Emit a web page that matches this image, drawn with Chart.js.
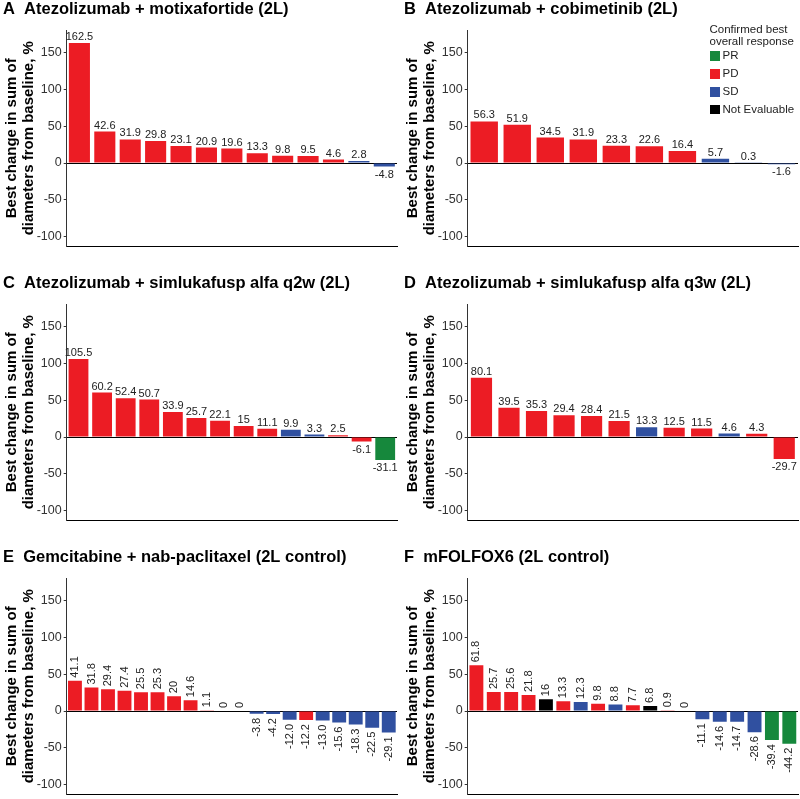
<!DOCTYPE html>
<html><head><meta charset="utf-8">
<script src="https://cdn.jsdelivr.net/npm/chart.js@4.4.1/dist/chart.umd.min.js"></script>
<style>
html,body{margin:0;padding:0;background:#fff;width:800px;height:799px;overflow:hidden;position:relative;font-family:'Liberation Sans',Arial,sans-serif;}
canvas{position:absolute;}
#legend{position:absolute;left:709.5px;top:22.8px;font-size:11.5px;line-height:12.5px;color:#222;white-space:nowrap;}
#legend .item{position:absolute;left:0;height:9.5px;}
#legend .sq{position:absolute;left:0;top:0;width:10px;height:9.5px;}
#legend .lab{position:absolute;left:13px;top:0;line-height:9.5px;}
</style></head><body>
<canvas id="cA" width="400" height="256" style="left:0px;top:0px"></canvas>
<canvas id="cB" width="400" height="256" style="left:401px;top:0px"></canvas>
<canvas id="cC" width="400" height="256" style="left:0px;top:274px"></canvas>
<canvas id="cD" width="400" height="256" style="left:401px;top:274px"></canvas>
<canvas id="cE" width="400" height="256" style="left:0px;top:548px"></canvas>
<canvas id="cF" width="400" height="256" style="left:401px;top:548px"></canvas>
<div id="legend"></div>
<script>
// ---- data ----
const yTicks = [-100, -50, 0, 50, 100, 150];
const responseCodes = ['PR', 'PD', 'SD', 'NE'];
const responseNames = ['PR', 'PD', 'SD', 'Not Evaluable'];
const responseColors = ['#16883C', '#EC1C24', '#3050A0', '#000000'];
const legendTitle = ['Confirmed best', 'overall response'];
const yTitle = ['Best change in sum of', 'diameters from baseline, %'];

const titleA = 'A  Atezolizumab + motixafortide (2L)';
const valuesA = [162.5, 42.6, 31.9, 29.8, 23.1, 20.9, 19.6, 13.3, 9.8, 9.5, 4.6, 2.8, -4.8];
const respA = ['PD','PD','PD','PD','PD','PD','PD','PD','PD','PD','PD','SD','SD'];

const titleB = 'B  Atezolizumab + cobimetinib (2L)';
const valuesB = [56.3, 51.9, 34.5, 31.9, 23.3, 22.6, 16.4, 5.7, 0.3, -1.6];
const respB = ['PD','PD','PD','PD','PD','PD','PD','SD','SD','SD'];

const titleC = 'C  Atezolizumab + simlukafusp alfa q2w (2L)';
const valuesC = [105.5, 60.2, 52.4, 50.7, 33.9, 25.7, 22.1, 15, 11.1, 9.9, 3.3, 2.5, -6.1, -31.1];
const respC = ['PD','PD','PD','PD','PD','PD','PD','PD','PD','SD','SD','PD','PD','PR'];

const titleD = 'D  Atezolizumab + simlukafusp alfa q3w (2L)';
const valuesD = [80.1, 39.5, 35.3, 29.4, 28.4, 21.5, 13.3, 12.5, 11.5, 4.6, 4.3, -29.7];
const respD = ['PD','PD','PD','PD','PD','PD','SD','PD','PD','SD','PD','PD'];

const titleE = 'E  Gemcitabine + nab-paclitaxel (2L control)';
const valuesE = [41.1, 31.8, 29.4, 27.4, 25.5, 25.3, 20, 14.6, 1.1, 0, 0, -3.8, -4.2, -12.0, -12.2, -13.0, -15.6, -18.3, -22.5, -29.1];
const labelsE = ['41.1','31.8','29.4','27.4','25.5','25.3','20','14.6','1.1','0','0','-3.8','-4.2','-12.0','-12.2','-13.0','-15.6','-18.3','-22.5','-29.1'];
const respE = ['PD','PD','PD','PD','PD','PD','PD','PD','PD','PD','PD','SD','SD','SD','PD','SD','SD','SD','SD','SD'];

const titleF = 'F  mFOLFOX6 (2L control)';
const valuesF = [61.8, 25.7, 25.6, 21.8, 16, 13.3, 12.3, 9.8, 8.8, 7.7, 6.8, 0.9, 0, -11.1, -14.6, -14.7, -28.6, -39.4, -44.2];
const respF = ['PD','PD','PD','PD','NE','PD','SD','PD','SD','PD','NE','PD','PD','SD','SD','SD','SD','PR','PR'];

// ---- rendering ----
const FONT = "'Liberation Sans', Arial, sans-serif";
Chart.defaults.font.family = FONT;

const barLabels = {
  id: 'barLabels',
  afterDatasetsDraw(chart, args, opts) {
    const meta = chart.getDatasetMeta(0);
    const data = chart.data.datasets[0].data;
    const ctx = chart.ctx;
    ctx.save();
    ctx.font = '11px ' + FONT;
    ctx.fillStyle = '#222';
    meta.data.forEach((bar, i) => {
      const v = data[i];
      const t = opts.texts[i];
      const p = bar.getProps(['x', 'y', 'base'], true);
      const top = Math.min(p.y, p.base), bottom = Math.max(p.y, p.base);
      if (opts.rotate) {
        ctx.save();
        if (v >= 0) { ctx.translate(p.x, top - 3); ctx.textAlign = 'left'; }
        else { ctx.translate(p.x, bottom + 4); ctx.textAlign = 'right'; }
        ctx.rotate(-Math.PI / 2);
        ctx.textBaseline = 'middle';
        ctx.fillText(t, 0, 0);
        ctx.restore();
      } else {
        ctx.textAlign = 'center';
        ctx.textBaseline = 'alphabetic';
        if (v >= 0) ctx.fillText(t, p.x, top - 3);
        else ctx.fillText(t, p.x, bottom + 11);
      }
    });
    ctx.restore();
  }
};

function colorOf(r) { return responseColors[responseCodes.indexOf(r)]; }

function makeChart(id, title, values, resp, texts, barPct, rotate) {
  new Chart(document.getElementById(id), {
    type: 'bar',
    data: {
      labels: values.map((_, i) => String(i + 1)),
      datasets: [{
        data: values,
        backgroundColor: resp.map(colorOf),
        borderWidth: 0,
        barPercentage: barPct,
        categoryPercentage: 1
      }]
    },
    options: {
      responsive: false,
      animation: false,
      events: [],
      layout: { padding: { left: 3, right: 3, top: 0, bottom: 0 } },
      plugins: {
        legend: { display: false },
        tooltip: { enabled: false },
        title: {
          display: true, text: title, align: 'start', color: '#000',
          font: { size: 16.5, weight: 'bold', lineHeight: 1.2 },
          padding: { top: 0, bottom: 10.2 }
        },
        barLabels: { texts: texts, rotate: rotate }
      },
      scales: {
        x: {
          display: true, offset: true,
          ticks: { display: false },
          grid: { display: false, drawTicks: false },
          border: { display: true, color: '#000', width: 1 },
          afterFit: s => { s.height = 9; }
        },
        y: {
          min: -113, max: 180,
          afterBuildTicks: s => { s.ticks = yTicks.map(v => ({ value: v })); },
          afterFit: s => { s.width = 63.7; },
          ticks: { color: '#333', font: { size: 12.5 }, padding: 2 },
          grid: {
            color: c => (c.tick && c.tick.value === 0) ? '#000' : 'rgba(0,0,0,0)',
            lineWidth: 1, drawTicks: true, tickLength: 3, tickColor: '#333', tickWidth: 1
          },
          border: { display: true, color: '#333', width: 1 },
          title: {
            display: true, text: yTitle, color: '#000',
            font: { size: 15, weight: 'bold', lineHeight: 1.1 },
            padding: { top: 0.75, bottom: 0 }
          }
        }
      }
    },
    plugins: [barLabels]
  });
}

makeChart('cA', titleA, valuesA, respA, valuesA.map(String), 0.83, false);
makeChart('cB', titleB, valuesB, respB, valuesB.map(String), 0.83, false);
makeChart('cC', titleC, valuesC, respC, valuesC.map(String), 0.84, false);
makeChart('cD', titleD, valuesD, respD, valuesD.map(String), 0.77, false);
makeChart('cE', titleE, valuesE, respE, labelsE, 0.84, true);
makeChart('cF', titleF, valuesF, respF, valuesF.map(String), 0.80, true);

// legend
const lg = document.getElementById('legend');
legendTitle.forEach(t => { const d = document.createElement('div'); d.textContent = t; lg.appendChild(d); });
responseNames.forEach((n, i) => {
  const it = document.createElement('div');
  it.className = 'item';
  it.style.top = (28.7 + i * 17.8) + 'px';
  const sq = document.createElement('div'); sq.className = 'sq'; sq.style.background = responseColors[i];
  const lb = document.createElement('div'); lb.className = 'lab'; lb.textContent = n;
  it.appendChild(sq); it.appendChild(lb); lg.appendChild(it);
});
</script>
</body></html>
